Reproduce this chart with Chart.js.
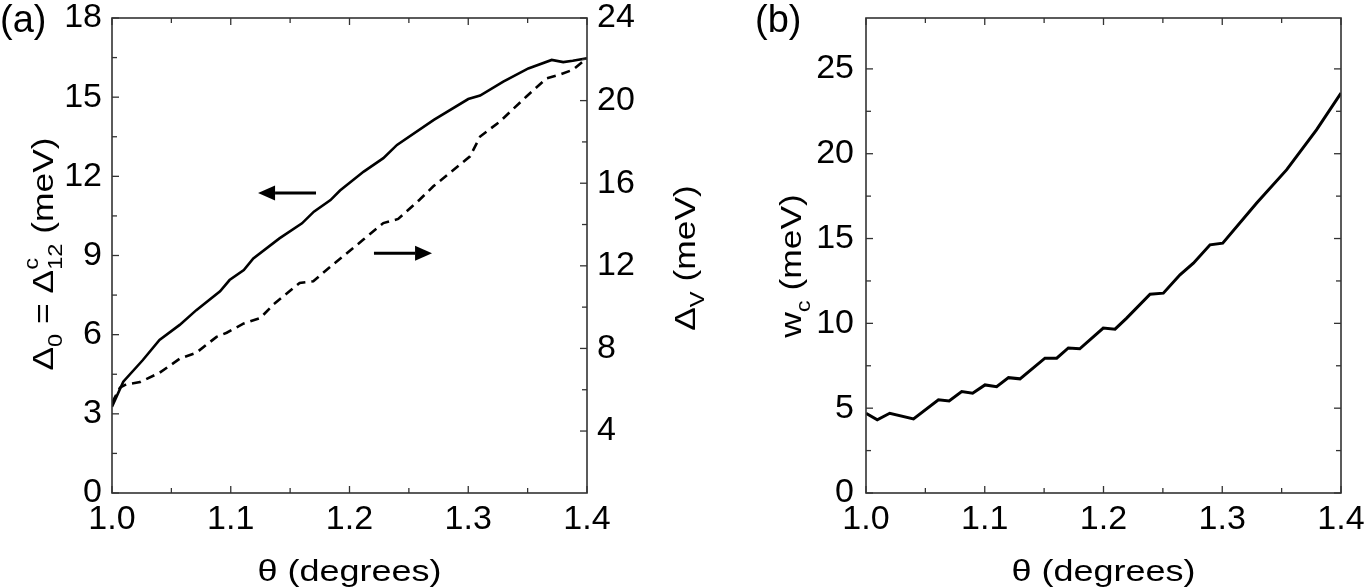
<!DOCTYPE html>
<html>
<head>
<meta charset="utf-8">
<script src="https://cdn.jsdelivr.net/npm/chart.js@4.4.1/dist/chart.umd.min.js"></script>
<style>
  html, body { margin: 0; padding: 0; background: #fff; }
  #wrap { position: relative; width: 1365px; height: 588px; overflow: hidden; }
  canvas { position: absolute; top: 0; }
  #ca { left: 0; }
  #cb { left: 740px; }
</style>
</head>
<body>
<div id="wrap">
  <canvas id="ca" width="740" height="588"></canvas>
  <canvas id="cb" width="625" height="588"></canvas>
</div>
<script>
// ---------- DATA ----------
// Panel (a): solid line, left axis  Δ0 = Δ12^c (meV)
const thetaDelta0 = [1.000, 1.0095, 1.026, 1.040, 1.057, 1.071, 1.091, 1.099, 1.111, 1.119, 1.141, 1.160, 1.170, 1.184, 1.192, 1.212, 1.2285, 1.240, 1.271, 1.300, 1.310, 1.3295, 1.3506, 1.3703, 1.380, 1.388, 1.394, 1.400];
const delta0      = [3.27, 4.22, 5.04, 5.80, 6.37, 6.93, 7.64, 8.07, 8.45, 8.89, 9.65, 10.22, 10.66, 11.10, 11.46, 12.18, 12.69, 13.19, 14.14, 14.93, 15.06, 15.59, 16.09, 16.41, 16.33, 16.38, 16.43, 16.47];
// Panel (a): dashed line, right axis  ΔV (meV)
const thetaDeltaV = [1.000, 1.0067, 1.012, 1.0236, 1.040, 1.057, 1.071, 1.088, 1.0966, 1.111, 1.125, 1.136, 1.158, 1.1695, 1.186, 1.2117, 1.2285, 1.241, 1.259, 1.2706, 1.3015, 1.310, 1.3267, 1.349, 1.366, 1.376, 1.388, 1.400];
const deltaV      = [5.37, 6.10, 6.26, 6.37, 6.82, 7.50, 7.79, 8.56, 8.76, 9.21, 9.48, 10.13, 11.17, 11.25, 12.06, 13.27, 14.07, 14.27, 15.20, 15.85, 17.30, 18.26, 18.99, 20.20, 21.08, 21.24, 21.49, 22.05];
// Panel (b): w_c (meV)
const thetaWc = [1.000, 1.0095, 1.020, 1.040, 1.061, 1.070, 1.0806, 1.0898, 1.1002, 1.110, 1.120, 1.1297, 1.1507, 1.1606, 1.1704, 1.180, 1.1998, 1.2097, 1.2195, 1.2392, 1.2504, 1.2644, 1.2757, 1.2897, 1.3004, 1.329, 1.3543, 1.3795, 1.400];
const wc      = [4.70, 4.31, 4.70, 4.37, 5.49, 5.43, 5.98, 5.88, 6.37, 6.27, 6.80, 6.73, 7.95, 7.95, 8.55, 8.50, 9.72, 9.66, 10.31, 11.72, 11.78, 12.86, 13.55, 14.63, 14.73, 17.09, 19.06, 21.42, 23.58];

// Axis ranges / ticks
const xRange = [1.0, 1.4];
const xMinorStep = 0.05, xLabelStep = 0.1;
const yLeftA = [0, 18], yLeftAMinor = 1.5, yLeftALabel = 3;
const yRightA = [1, 24], yRightAMinor = 2, yRightALabel = 4;
const yB = [0, 28], yBMinor = 2.5, yBLabel = 5;

// Arrow annotations in panel (a): [thetaTail, thetaTip, y (left axis)]
const arrowLeft  = [1.1718, 1.123, 11.37];
const arrowRight = [1.2206, 1.2695, 9.09];

// ---------- HELPERS ----------
const FAMILY = '"Liberation Sans", Arial, Helvetica, sans-serif';
const TICK_FONT = { family: FAMILY, size: 34 };
function isMult(v, step) { const r = v / step; return Math.abs(r - Math.round(r)) < 1e-6; }
function labelCb(step, dec, minLabel) {
  return function (v) {
    if (!isMult(v, step)) return '';
    if (minLabel !== undefined && v < minLabel) return '';
    return dec ? Number(v).toFixed(dec) : String(Math.round(v));
  };
}
function toPts(xs, ys) { return xs.map((x, i) => ({ x: x, y: ys[i] })); }
function noPad(s) { s.paddingTop = 0; s.paddingBottom = 0; s.paddingLeft = 0; s.paddingRight = 0; }

function drawRich(ctx, segs, cx, cy, rot, stretch) {
  ctx.save();
  ctx.translate(cx, cy);
  ctx.rotate(rot);
  ctx.scale(stretch, 1);
  ctx.fillStyle = '#000';
  ctx.textAlign = 'left';
  ctx.textBaseline = 'alphabetic';
  const widths = segs.map(s => {
    const parts = s.stack || [s];
    return Math.max(...parts.map(p => { ctx.font = p.size + 'px ' + FAMILY; return ctx.measureText(p.t).width; }));
  });
  const total = widths.reduce((a, b) => a + b, 0);
  let x = -total / 2;
  const base = 0.36 * 30;
  segs.forEach((s, i) => {
    (s.stack || [s]).forEach(p => {
      ctx.font = p.size + 'px ' + FAMILY;
      ctx.fillText(p.t, x, base + (p.dy || 0));
    });
    x += widths[i];
  });
  ctx.restore();
}

function drawTicksInward(ctx, scale, minorStep, labelStep, side, area, major, minor) {
  scale.ticks.forEach(t => {
    const v = t.value;
    if (!isMult(v, minorStep)) return;
    const len = isMult(v, labelStep) ? major : minor;
    const p = scale.getPixelForValue(v);
    ctx.beginPath();
    if (side === 'left')   { ctx.moveTo(area.left, p);  ctx.lineTo(area.left + len, p); }
    if (side === 'right')  { ctx.moveTo(area.right, p); ctx.lineTo(area.right - len, p); }
    if (side === 'bottom') { ctx.moveTo(p, area.bottom); ctx.lineTo(p, area.bottom - len); }
    if (side === 'top')    { ctx.moveTo(p, area.top);   ctx.lineTo(p, area.top + len); }
    ctx.stroke();
  });
}

function xScaleOpts() {
  return {
    type: 'linear', position: 'bottom', min: xRange[0], max: xRange[1],
    grid: { display: false, drawTicks: false }, border: { display: false },
    ticks: { stepSize: xMinorStep, autoSkip: false, maxRotation: 0, minRotation: 0,
             callback: labelCb(xLabelStep, 1), font: TICK_FONT, color: '#000', padding: 6 },
    afterFit: s => { s.height = 95; noPad(s); }
  };
}

// ---------- PANEL (a) ----------
const framePluginA = {
  id: 'frameA',
  afterDraw(chart) {
    const ctx = chart.ctx, a = chart.chartArea, sx = chart.scales.x, sy = chart.scales.y, sy2 = chart.scales.y2;
    ctx.save();
    ctx.strokeStyle = '#333'; ctx.lineWidth = 1.6;
    ctx.strokeRect(a.left, a.top, a.right - a.left, a.bottom - a.top);
    ctx.lineWidth = 1.3;
    drawTicksInward(ctx, sx, xMinorStep, xLabelStep, 'bottom', a, 7, 5);
    drawTicksInward(ctx, sx, xMinorStep, xLabelStep, 'top', a, 7, 5);
    drawTicksInward(ctx, sy, yLeftAMinor, yLeftALabel, 'left', a, 7, 5);
    drawTicksInward(ctx, sy2, yRightAMinor, yRightALabel, 'right', a, 7, 5);
    // arrows
    ctx.fillStyle = '#000'; ctx.strokeStyle = '#000'; ctx.lineWidth = 3;
    [arrowLeft, arrowRight].forEach(ar => {
      const x0 = sx.getPixelForValue(ar[0]), x1 = sx.getPixelForValue(ar[1]), y = sy.getPixelForValue(ar[2]);
      const dir = Math.sign(x1 - x0), head = 17, hw = 7.5;
      ctx.beginPath(); ctx.moveTo(x0, y); ctx.lineTo(x1 - dir * head, y); ctx.stroke();
      ctx.beginPath(); ctx.moveTo(x1, y); ctx.lineTo(x1 - dir * head, y - hw); ctx.lineTo(x1 - dir * head, y + hw); ctx.closePath(); ctx.fill();
    });
    // titles
    drawRich(ctx, [{ t: 'θ (degrees)', size: 30 }], (a.left + a.right) / 2, 570, 0, 1.2);
    drawRich(ctx, [
      { t: 'Δ', size: 30 }, { t: '0', size: 20, dy: 9 }, { t: ' = Δ', size: 30 },
      { stack: [{ t: 'c', size: 20, dy: -15 }, { t: '12', size: 20, dy: 9 }] },
      { t: ' (meV)', size: 30 }
    ], 42, 254, -Math.PI / 2, 1.18);
    drawRich(ctx, [{ t: 'Δ', size: 30 }, { t: 'V', size: 20, dy: 9 }, { t: ' (meV)', size: 30 }], 684, 258, -Math.PI / 2, 1.18);
    ctx.font = '38px ' + FAMILY; ctx.textAlign = 'left'; ctx.textBaseline = 'top'; ctx.fillStyle = '#000';
    ctx.fillText('(a)', 0, 3);
    ctx.restore();
  }
};

new Chart(document.getElementById('ca'), {
  type: 'line',
  data: {
    datasets: [
      { label: 'Δ0', data: toPts(thetaDelta0, delta0), yAxisID: 'y', borderColor: '#000', borderWidth: 2.6,
        pointRadius: 0, fill: false, tension: 0 },
      { label: 'ΔV', data: toPts(thetaDeltaV, deltaV), yAxisID: 'y2', borderColor: '#000', borderWidth: 2.6,
        borderDash: [9, 6], pointRadius: 0, fill: false, tension: 0 }
    ]
  },
  options: {
    responsive: false, animation: false, devicePixelRatio: 1,
    layout: { padding: { top: 18, left: 0, right: 0, bottom: 0 } },
    plugins: { legend: { display: false }, tooltip: { enabled: false } },
    scales: {
      x: xScaleOpts(),
      y: { position: 'left', min: yLeftA[0], max: yLeftA[1],
           grid: { display: false, drawTicks: false }, border: { display: false },
           ticks: { stepSize: yLeftAMinor, autoSkip: false, maxTicksLimit: 100, callback: labelCb(yLeftALabel, 0),
                    font: TICK_FONT, color: '#000', padding: 10 },
           afterFit: s => { s.width = 112; noPad(s); } },
      y2: { position: 'right', min: yRightA[0], max: yRightA[1],
            grid: { display: false, drawTicks: false }, border: { display: false },
            ticks: { stepSize: yRightAMinor, autoSkip: false, maxTicksLimit: 100, callback: labelCb(yRightALabel, 0, 4),
                     font: TICK_FONT, color: '#000', padding: 10 },
            afterFit: s => { s.width = 153; noPad(s); } }
    }
  },
  plugins: [framePluginA]
});

// ---------- PANEL (b) ----------
const framePluginB = {
  id: 'frameB',
  afterDraw(chart) {
    const ctx = chart.ctx, a = chart.chartArea, sx = chart.scales.x, sy = chart.scales.y;
    ctx.save();
    ctx.strokeStyle = '#333'; ctx.lineWidth = 1.6;
    ctx.strokeRect(a.left, a.top, a.right - a.left, a.bottom - a.top);
    ctx.lineWidth = 1.3;
    drawTicksInward(ctx, sx, xMinorStep, xLabelStep, 'bottom', a, 7, 5);
    drawTicksInward(ctx, sx, xMinorStep, xLabelStep, 'top', a, 7, 5);
    drawTicksInward(ctx, sy, yBMinor, yBLabel, 'left', a, 7, 5);
    drawTicksInward(ctx, sy, yBMinor, yBLabel, 'right', a, 7, 5);
    drawRich(ctx, [{ t: 'θ (degrees)', size: 30 }], (a.left + a.right) / 2, 570, 0, 1.2);
    drawRich(ctx, [{ t: 'w', size: 30 }, { t: 'c', size: 20, dy: 9 }, { t: ' (meV)', size: 30 }], 50, 266, -Math.PI / 2, 1.18);
    ctx.font = '38px ' + FAMILY; ctx.textAlign = 'left'; ctx.textBaseline = 'top'; ctx.fillStyle = '#000';
    ctx.fillText('(b)', 15, 3);
    ctx.restore();
  }
};

new Chart(document.getElementById('cb'), {
  type: 'line',
  data: {
    datasets: [
      { label: 'wc', data: toPts(thetaWc, wc), borderColor: '#000', borderWidth: 3,
        pointRadius: 0, fill: false, tension: 0 }
    ]
  },
  options: {
    responsive: false, animation: false, devicePixelRatio: 1,
    layout: { padding: { top: 18, left: 0, right: 24, bottom: 0 } },
    plugins: { legend: { display: false }, tooltip: { enabled: false } },
    scales: {
      x: xScaleOpts(),
      y: { position: 'left', min: yB[0], max: yB[1],
           grid: { display: false, drawTicks: false }, border: { display: false },
           ticks: { stepSize: yBMinor, autoSkip: false, maxTicksLimit: 100, callback: labelCb(yBLabel, 0),
                    font: TICK_FONT, color: '#000', padding: 12 },
           afterFit: s => { s.width = 126; noPad(s); } }
    }
  },
  plugins: [framePluginB]
});
</script>
</body>
</html>
